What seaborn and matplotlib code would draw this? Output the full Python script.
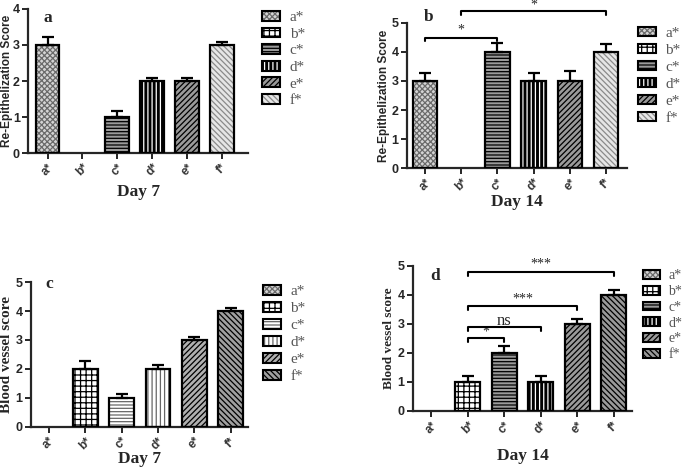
import matplotlib.pyplot as plt
import seaborn as sns
import numpy as np
from matplotlib.patches import Patch, Rectangle
from matplotlib.legend_handler import HandlerTuple

sns.set_style("ticks")
plt.rcParams["font.family"] = ["Liberation Sans", "DejaVu Sans"]
plt.rcParams["hatch.linewidth"] = 0.9

groups = ["a*", "b*", "c*", "d*", "e*", "f*"]

# panel a: re-epithelization, day 7
reepi_d7 = [3, 0, 1, 2, 2, 3]
reepi_d7_err = [0.22, 0, 0.17, 0.08, 0.08, 0.08]
# panel b: re-epithelization, day 14
reepi_d14 = [3, 0, 4, 3, 3, 4]
reepi_d14_err = [0.28, 0, 0.32, 0.28, 0.33, 0.28]
# panel c: blood vessel, day 7
vessel_d7 = [0, 2, 1, 2, 3, 4]
vessel_d7_err = [0, 0.27, 0.12, 0.15, 0.12, 0.12]
# panel d: blood vessel, day 14
vessel_d14 = [0, 1, 2, 1, 3, 4]
vessel_d14_err = [0, 0.2, 0.25, 0.2, 0.15, 0.18]

# (facecolor, hatch colour, hatch) per group
style_dark = [("#d4d4d4", "#6a6a6a", "xxxxxx"),
              ("white", "black", "+++"),
              ("#9a9a9a", "black", "-----"),
              ("black", "white", "||||"),
              ("#9a9a9a", "black", "//////"),
              ("#e6e6e6", "#8a8a8a", "\\\\\\\\\\\\")]
style_light = [("#d4d4d4", "#6a6a6a", "xxxxxx"),
               ("white", "black", "+++"),
               ("white", "#666666", "-----"),
               ("white", "#666666", "||||"),
               ("#b0b0b0", "black", "//////"),
               ("#a0a0a0", "black", "\\\\\\\\\\\\")]
style_d = [("#d4d4d4", "#6a6a6a", "xxxxxx"),
           ("white", "black", "+++"),
           ("#9a9a9a", "black", "-----"),
           ("black", "white", "||||"),
           ("#9a9a9a", "black", "//////"),
           ("#9a9a9a", "black", "\\\\\\\\\\\\")]


def panel(ax, vals, errs, styles, ymax, xlim, ylabel, ylab_family, ylab_size, ylab_x,
          xlabel, xlab_y):
    sns.barplot(x=groups, y=vals, ax=ax, width=0.68, color="white", errorbar=None)
    for p, (fc, hc, h) in zip(ax.patches, styles):
        p.set_facecolor(fc)
        p.set_edgecolor(hc)
        p.set_hatch(h)
        p.set_linewidth(0)
        if p.get_height() > 0:
            ax.add_patch(Rectangle(p.get_xy(), p.get_width(), p.get_height(),
                                   fill=False, edgecolor="black", lw=1.6, zorder=3))
    x = np.arange(len(groups))
    v = np.array(vals, dtype=float)
    e = np.array(errs, dtype=float)
    keep = v > 0
    ax.errorbar(x[keep], v[keep], yerr=[np.zeros(keep.sum()), e[keep]], fmt="none",
                ecolor="black", elinewidth=1.6, capsize=4, capthick=1.6, zorder=2)
    ax.set_ylim(0, ymax)
    ax.set_xlim(*xlim)
    ax.set_yticks(range(ymax + 1))
    ax.set_ylabel(ylabel, family=ylab_family, fontweight="bold", fontsize=ylab_size)
    ax.yaxis.set_label_coords(ylab_x, 0.5)
    ax.set_xlabel(xlabel, family="Liberation Serif", fontweight="bold", fontsize=12.5)
    ax.xaxis.set_label_coords(0.5, xlab_y)
    for lab in ax.get_yticklabels():
        lab.set_fontweight("bold")
        lab.set_fontsize(9)
    ax.set_xticks(x)
    ax.set_xticklabels(groups, rotation=45, fontweight="bold", fontsize=8.5, color="#333333")
    ax.tick_params(axis="both", width=1.4, length=4, pad=2)
    for s in ["left", "bottom"]:
        ax.spines[s].set_linewidth(1.6)
    sns.despine(ax=ax)


def legend(ax, styles, x0, y0, size, spacing):
    handles = [(Patch(facecolor=fc, edgecolor=hc, hatch=h, lw=0),
                Patch(fill=False, edgecolor="black", lw=1.5)) for fc, hc, h in styles]
    ax.legend(handles, groups, handler_map={tuple: HandlerTuple(ndivide=1)},
              loc="upper left", bbox_to_anchor=(x0, y0), frameon=False,
              borderaxespad=0, borderpad=0, handlelength=1.2, handleheight=0.6,
              handletextpad=0.6, labelspacing=spacing, labelcolor="#555555",
              prop={"family": "Liberation Serif", "size": size})


def bracket(ax, x1, x2, y, drop, text, ty, fs=10):
    ax.plot([x1, x1, x2, x2], [y - drop, y, y, y - drop], color="black", lw=1.5,
            clip_on=False, zorder=4)
    ax.text((x1 + x2) / 2, ty, text, ha="center", va="center", fontsize=fs,
            family="Liberation Serif", clip_on=False)


fig = plt.figure(figsize=(6.85, 4.67), dpi=100)
ax_a = fig.add_axes([0.041, 0.672, 0.321, 0.309])
ax_b = fig.add_axes([0.594, 0.640, 0.321, 0.311])
ax_c = fig.add_axes([0.045, 0.086, 0.317, 0.310])
ax_d = fig.add_axes([0.603, 0.120, 0.320, 0.311])

panel(ax_a, reepi_d7, reepi_d7_err, style_dark, 4, (-0.56, 5.75),
      "Re-Epithelization Score", "Liberation Sans", 8.5, -0.068, "Day 7", -0.215)
panel(ax_b, reepi_d14, reepi_d14_err, style_dark, 5, (-0.5, 5.57),
      "Re-Epithelization Score", "Liberation Sans", 8.5, -0.075, "Day 14", -0.18)
panel(ax_c, vessel_d7, vessel_d7_err, style_light, 5, (-0.5, 5.48),
      "Blood vessel score", "Liberation Serif", 11, -0.083, "Day 7", -0.17)
panel(ax_d, vessel_d14, vessel_d14_err, style_d, 5, (-0.5, 5.51),
      "Blood vessel score", "Liberation Serif", 9.5, -0.082, "Day 14", -0.257)

legend(ax_a, style_dark, 1.064, 0.985, 11, 0.22)
legend(ax_b, style_dark, 1.05, 0.975, 11, 0.25)
legend(ax_c, style_light, 1.069, 0.98, 11, 0.25)
legend(ax_d, style_d, 1.05, 0.975, 10, 0.2)

for ax, lab, tx, ty in [(ax_a, "a", 0, 3.75), (ax_b, "b", 0.1, 5.2),
                        (ax_c, "c", 0, 4.95), (ax_d, "d", 0.1, 4.63)]:
    ax.text(tx, ty, lab, ha="center", va="center", family="Liberation Serif",
            fontweight="bold", fontsize=12.5, clip_on=False)

bracket(ax_b, 0, 2, 4.49, 0.12, "*", 4.74)
bracket(ax_b, 1, 5, 5.42, 0.15, "*", 5.6)

bracket(ax_d, 1, 5, 4.80, 0.15, "***", 5.07)
bracket(ax_d, 1, 4, 3.61, 0.15, "***", 3.85)
bracket(ax_d, 1, 3, 2.89, 0.14, "ns", 3.1, fs=12)
bracket(ax_d, 1, 2, 2.51, 0.14, "*", 2.7)

fig.savefig("out.png", dpi=100)
